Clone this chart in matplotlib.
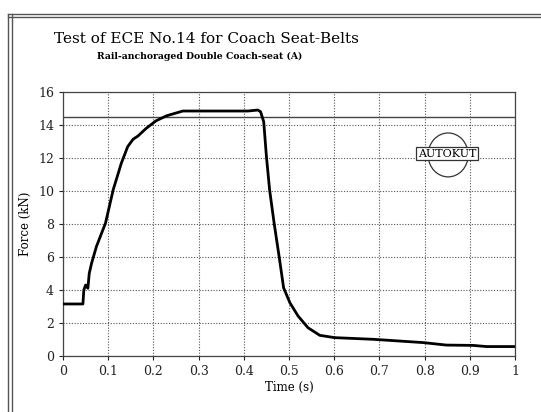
import numpy as np
import matplotlib
matplotlib.use("Agg")
import matplotlib.pyplot as plt
from matplotlib.patches import Ellipse
from matplotlib.lines import Line2D

# force trace
time_s = [0.0, 0.044, 0.046, 0.050, 0.055, 0.058, 0.063, 0.074, 0.094, 0.111,
          0.129, 0.143, 0.155, 0.166, 0.184, 0.206, 0.229, 0.265, 0.409, 0.431,
          0.437, 0.444, 0.450, 0.457, 0.467, 0.478, 0.488, 0.502, 0.520, 0.542,
          0.568, 0.601, 0.686, 0.797, 0.848, 0.907, 0.937, 1.0]
force_kn = [3.15, 3.15, 4.0, 4.3, 4.1, 5.0, 5.6, 6.64, 8.05, 10.07,
            11.68, 12.68, 13.13, 13.33, 13.79, 14.25, 14.55, 14.84, 14.84, 14.9,
            14.8, 14.19, 12.08, 10.07, 8.05, 6.04, 4.13, 3.22, 2.42, 1.71,
            1.25, 1.11, 1.01, 0.81, 0.66, 0.64, 0.57, 0.57]
limit_kn = 14.45

x_ticks = [0, 0.1, 0.2, 0.3, 0.4, 0.5, 0.6, 0.7, 0.8, 0.9, 1]
x_labels = ["0", "0.1", "0.2", "0.3", "0.4", "0.5", "0.6", "0.7", "0.8", "0.9", "1"]
y_ticks = [0, 2, 4, 6, 8, 10, 12, 14, 16]

plt.rcParams["font.family"] = ["DejaVu Serif"]

fig = plt.figure(figsize=(5.41, 4.12), dpi=100)
ax = fig.add_axes([0.1165, 0.136, 0.8355, 0.641])

ax.plot(time_s, force_kn, color="black", lw=2.0, zorder=3)
ax.axhline(limit_kn, color="#444444", lw=1.0, zorder=2)

ax.set_xlim(0, 1)
ax.set_ylim(0, 16)
ax.set_xticks(x_ticks)
ax.set_xticklabels(x_labels)
ax.set_yticks(y_ticks)
ax.tick_params(labelsize=9, length=3, width=0.8, colors="#222222")
ax.grid(True, linestyle=(0, (1, 1.5)), color="#555555", lw=0.8)
for s in ax.spines.values():
    s.set_color("#444444")
    s.set_linewidth(0.9)

ax.set_xlabel("Time (s)", fontsize=8.5, labelpad=2)
ax.set_ylabel("Force (kN)", fontsize=8.5, labelpad=4)

# AUTOKUT stamp
ax.add_patch(Ellipse((0.852, 12.18), 0.0885, 2.66, fill=False,
                     ec="#333333", lw=0.9, zorder=4))
ax.text(0.849, 12.26, "AUTOKUT", fontsize=8, ha="center", va="center", zorder=5,
        bbox=dict(boxstyle="square,pad=0.15", fc="white", ec="#333333", lw=0.9))

fig.text(0.10, 0.895, "Test of ECE No.14 for Coach Seat-Belts", fontsize=11)
fig.text(0.18, 0.857, "Rail-anchoraged Double Coach-seat (A)", fontsize=6.7,
         fontweight="bold")

# outer double frame
for x in (0.015, 0.022):
    fig.add_artist(Line2D([x, x], [0, 0.965], color="#555555", lw=1.0))
for y in (0.965, 0.958):
    fig.add_artist(Line2D([0.015, 1.0], [y, y], color="#555555", lw=1.0))

fig.savefig("out.png", dpi=100)
